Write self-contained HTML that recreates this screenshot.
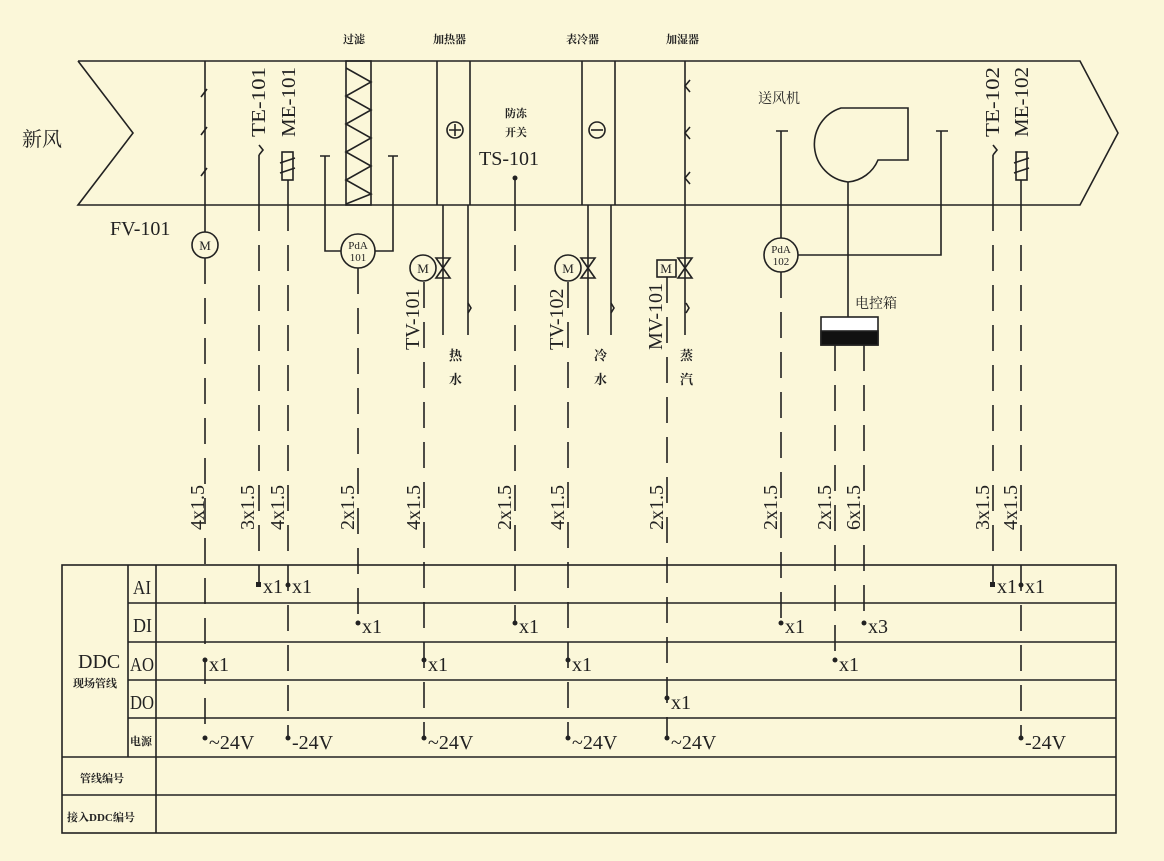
<!DOCTYPE html>
<html><head><meta charset="utf-8"><style>
html,body{margin:0;padding:0;background:#fbf7d9;}
svg{display:block}
text{font-family:"Liberation Serif","Noto Serif CJK SC","Noto Sans CJK SC",serif;fill:#222;}
.c{font-family:"Liberation Sans","Noto Sans CJK SC",sans-serif;font-weight:bold;}
</style></head><body>
<svg width="1164" height="861" viewBox="0 0 1164 861" xmlns="http://www.w3.org/2000/svg">
<rect width="1164" height="861" fill="#fbf7d9"/>
<g stroke="#222" stroke-width="1.6" fill="none">
<polyline points="78,61 1080,61 1118,133 1080,205 78,205 133,133 78,61"/>
<line x1="205" y1="61" x2="205" y2="232"/>
<path d="M201,97 l6,-8 M201,135 l6,-8 M201,176 l6,-8"/>
<rect x="346" y="61" width="25" height="144"/>
<polyline points="346,68 371,82 346,96 371,110 346,124 371,138 346,152 371,166 346,180 371,194 346,204"/>
<line x1="437" y1="61" x2="437" y2="205"/><line x1="470" y1="61" x2="470" y2="205"/>
<circle cx="455" cy="130" r="8"/><path d="M455,124 v12 M449,130 h12"/>
<line x1="582" y1="61" x2="582" y2="205"/><line x1="615" y1="61" x2="615" y2="205"/>
<circle cx="597" cy="130" r="8"/><path d="M591,130 h12"/>
<line x1="685" y1="61" x2="685" y2="335"/>
<path d="M690,80 l-5,6 l5,6 M690,127 l-5,6 l5,6 M690,172 l-5,6 l5,6"/>
<path d="M259,145 l4,5 l-4,5"/><line x1="259" y1="155" x2="259" y2="205"/>
<rect x="282" y="152" width="11" height="28"/><path d="M280,163 l15,-5 M280,173 l15,-5"/>
<line x1="288" y1="180" x2="288" y2="205"/>
<path d="M320,156 h10 M325,156 V251 H341 M388,156 h10 M393,156 V251 H375"/>
<circle cx="358" cy="251" r="17"/>
<line x1="515" y1="178" x2="515" y2="205"/>
<line x1="443" y1="205" x2="443" y2="335"/><line x1="468" y1="205" x2="468" y2="335"/>
<path d="M468,303 l3,5 l-3,5"/>
<circle cx="423" cy="268" r="13"/>
<path d="M436,258 L450,278 L436,278 L450,258 Z"/>
<line x1="588" y1="205" x2="588" y2="335"/><line x1="611" y1="205" x2="611" y2="335"/>
<path d="M611,303 l3,5 l-3,5"/>
<circle cx="568" cy="268" r="13"/>
<path d="M581,258 L595,278 L581,278 L595,258 Z"/>
<rect x="657" y="260" width="19" height="17"/>
<path d="M678,258 L692,278 L678,278 L692,258 Z"/>
<path d="M686,303 l3,5 l-3,5"/>
<path d="M908,108 H841 A38,38 0 0 0 848,182 A36,36 0 0 0 878,160 H908 Z"/>
<line x1="848" y1="182" x2="848" y2="317"/>
<path d="M776,131 h12 M781,131 V238 M936,131 h12 M941,131 V255 H798"/>
<circle cx="781" cy="255" r="17"/>
<circle cx="205" cy="245" r="13"/>
<rect x="821" y="317" width="57" height="28" fill="#fff"/>
<rect x="821" y="331" width="57" height="14" fill="#111"/>
<path d="M993,145 l4,5 l-4,5"/><line x1="993" y1="155" x2="993" y2="205"/>
<rect x="1016" y="152" width="11" height="28"/><path d="M1014,163 l15,-5 M1014,173 l15,-5"/>
<line x1="1021" y1="180" x2="1021" y2="205"/>
</g>
<g stroke="#222" stroke-width="1.6" fill="none" stroke-dasharray="26,14">
<line x1="205" y1="258" x2="205" y2="740"/>
<line x1="259" y1="205" x2="259" y2="585"/>
<line x1="288" y1="205" x2="288" y2="740"/>
<line x1="358" y1="268" x2="358" y2="625"/>
<line x1="424" y1="282" x2="424" y2="740"/>
<line x1="515" y1="205" x2="515" y2="625"/>
<line x1="568" y1="282" x2="568" y2="740"/>
<line x1="667" y1="277" x2="667" y2="740"/>
<line x1="781" y1="272" x2="781" y2="625"/>
<line x1="835" y1="345" x2="835" y2="662"/>
<line x1="864" y1="345" x2="864" y2="625"/>
<line x1="993" y1="205" x2="993" y2="585"/>
<line x1="1021" y1="205" x2="1021" y2="740"/>
</g>
<g stroke="#222" stroke-width="1.6" fill="none">
<rect x="62" y="565" width="1054" height="268"/>
<path d="M128,565 V757 M156,565 V833 M128,603 H1116 M128,642 H1116 M128,680 H1116 M128,718 H1116 M62,757 H1116 M62,795 H1116"/>
</g>
<g fill="#222">
<rect x="256" y="582" width="5" height="5"/><circle cx="288" cy="585" r="2.5"/>
<rect x="990" y="582" width="5" height="5"/><circle cx="1021" cy="585" r="2.5"/>
<circle cx="358" cy="623" r="2.5"/><circle cx="515" cy="623" r="2.5"/><circle cx="781" cy="623" r="2.5"/><circle cx="864" cy="623" r="2.5"/>
<circle cx="205" cy="660" r="2.5"/><circle cx="424" cy="660" r="2.5"/><circle cx="568" cy="660" r="2.5"/><circle cx="835" cy="660" r="2.5"/>
<circle cx="667" cy="698" r="2.5"/>
<circle cx="205" cy="738" r="2.5"/><circle cx="288" cy="738" r="2.5"/><circle cx="424" cy="738" r="2.5"/><circle cx="568" cy="738" r="2.5"/><circle cx="667" cy="738" r="2.5"/><circle cx="1021" cy="738" r="2.5"/>
<circle cx="515" cy="178" r="2.5"/>
</g>
<g font-size="20">
<text x="263" y="593">x1</text><text x="292" y="593">x1</text><text x="997" y="593">x1</text><text x="1025" y="593">x1</text>
<text x="362" y="633">x1</text><text x="519" y="633">x1</text><text x="785" y="633">x1</text><text x="868" y="633">x3</text>
<text x="209" y="671">x1</text><text x="428" y="671">x1</text><text x="572" y="671">x1</text><text x="839" y="671">x1</text>
<text x="671" y="709">x1</text>
<text x="209" y="749">~24V</text><text x="292" y="749">-24V</text><text x="428" y="749">~24V</text><text x="572" y="749">~24V</text><text x="671" y="749">~24V</text><text x="1025" y="749">-24V</text>
<text x="133" y="594" textLength="18" lengthAdjust="spacingAndGlyphs">AI</text>
<text x="133" y="632" textLength="19" lengthAdjust="spacingAndGlyphs">DI</text>
<text x="130" y="671" textLength="24" lengthAdjust="spacingAndGlyphs">AO</text>
<text x="130" y="709" textLength="24" lengthAdjust="spacingAndGlyphs">DO</text>
<text x="78" y="668">DDC</text>
<text x="110" y="235">FV-101</text>
<text x="479" y="165">TS-101</text>
</g>
<g font-size="11" class="c">
<text x="73" y="687">现场管线</text><text x="130" y="745">电源</text>
<text x="80" y="782">管线编号</text><text x="67" y="821">接入DDC编号</text>
<text x="343" y="43">过滤</text><text x="433" y="43">加热器</text><text x="566" y="43">表冷器</text><text x="666" y="43">加湿器</text>
<text x="505" y="117">防冻</text><text x="505" y="136">开关</text>
</g>
<g font-size="20" class="c" style="font-weight:normal">
<text x="22" y="146">新风</text>
<text x="758" y="103" font-size="14">送风机</text>
<text x="855" y="308" font-size="14">电控箱</text>
</g>
<g font-size="13" class="c">
<text x="449" y="360">热</text><text x="449" y="384">水</text>
<text x="594" y="360">冷</text><text x="594" y="384">水</text>
<text x="680" y="360">蒸</text><text x="680" y="384">汽</text>
</g>
<g font-size="11" text-anchor="middle">
<text x="205" y="250" font-size="13">M</text>
<text x="423" y="273" font-size="13">M</text><text x="568" y="273" font-size="13">M</text><text x="666" y="273" font-size="13">M</text>
<text x="358" y="249">PdA</text><text x="358" y="261">101</text>
<text x="781" y="253">PdA</text><text x="781" y="265">102</text>
</g>
<g font-size="20">
<text transform="translate(265,137) rotate(-90)" textLength="70" lengthAdjust="spacingAndGlyphs">TE-101</text>
<text transform="translate(295,137) rotate(-90)" textLength="70" lengthAdjust="spacingAndGlyphs">ME-101</text>
<text transform="translate(999,137) rotate(-90)" textLength="70" lengthAdjust="spacingAndGlyphs">TE-102</text>
<text transform="translate(1028,137) rotate(-90)" textLength="70" lengthAdjust="spacingAndGlyphs">ME-102</text>
<text transform="translate(419,350) rotate(-90)">TV-101</text>
<text transform="translate(563,350) rotate(-90)">TV-102</text>
<text transform="translate(662,350) rotate(-90)">MV-101</text>
<text transform="translate(204,530) rotate(-90)">4x1.5</text>
<text transform="translate(254,530) rotate(-90)">3x1.5</text>
<text transform="translate(284,530) rotate(-90)">4x1.5</text>
<text transform="translate(354,530) rotate(-90)">2x1.5</text>
<text transform="translate(420,530) rotate(-90)">4x1.5</text>
<text transform="translate(511,530) rotate(-90)">2x1.5</text>
<text transform="translate(564,530) rotate(-90)">4x1.5</text>
<text transform="translate(663,530) rotate(-90)">2x1.5</text>
<text transform="translate(777,530) rotate(-90)">2x1.5</text>
<text transform="translate(831,530) rotate(-90)">2x1.5</text>
<text transform="translate(860,530) rotate(-90)">6x1.5</text>
<text transform="translate(989,530) rotate(-90)">3x1.5</text>
<text transform="translate(1017,530) rotate(-90)">4x1.5</text>
</g>
</svg>
</body></html>
